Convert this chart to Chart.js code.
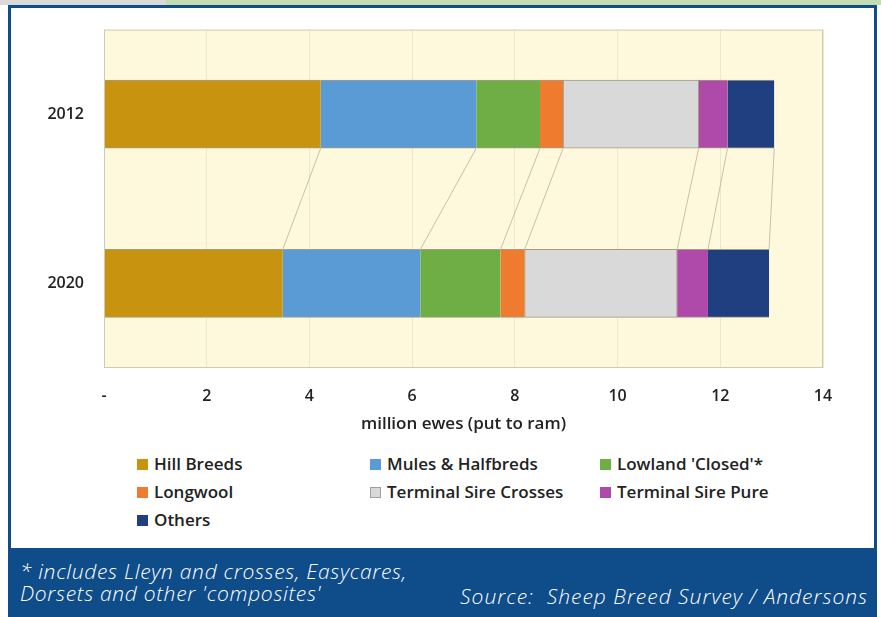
<!DOCTYPE html>
<html>
<head>
<meta charset="utf-8">
<script src="https://cdn.jsdelivr.net/npm/chart.js@4.4.1/dist/chart.umd.min.js"></script>
<style>
  html, body { margin: 0; padding: 0; background: #ffffff; }
  body { width: 881px; height: 617px; position: relative; overflow: hidden; font-family: "Open Sans", "Noto Sans", sans-serif; }
  #stripGrey { position: absolute; left: 0; top: 0; width: 166px; height: 5px; background: #d9d9d9; }
  #stripGreen { position: absolute; left: 166px; top: 0; width: 715px; height: 5px; background: #c3dcb0; }
  #frame { position: absolute; left: 8px; top: 5px; width: 863px; height: 545px; border: 3px solid #0e4c8a; border-bottom: none; background: #ffffff; }
  #footer { position: absolute; left: 8px; top: 548px; width: 869px; height: 69px; background: #0e4c8a; color: #ffffff; font-style: italic; font-weight: 300; font-size: 21px; letter-spacing: 0.7px; }
  #note { position: absolute; left: 12px; top: 12px; line-height: 22px; }
  #source { position: absolute; right: 9px; top: 37px; line-height: 22px; letter-spacing: 1px; }
  #chartBox { position: absolute; left: 0; top: 0; width: 881px; height: 440px; }
  #legend { position: absolute; left: 0; top: 0; width: 881px; }
  .item { position: absolute; font-size: 17px; font-weight: 600; color: #222222; white-space: nowrap; line-height: 20px; }
  .swatch { display: inline-block; width: 11px; height: 11px; margin-right: 6px; vertical-align: 0px; box-sizing: border-box; }
</style>
</head>
<body>
<div id="stripGrey"></div>
<div id="stripGreen"></div>
<div id="frame"></div>
<div id="chartBox"><canvas id="chart" width="881" height="440"></canvas></div>
<div id="legend"></div>
<div id="footer">
  <div id="note">* includes Lleyn and crosses, Easycares,<br>Dorsets and other 'composites'</div>
  <div id="source">Source:&nbsp; Sheep Breed Survey / Andersons</div>
</div>
<script>
// Breeding ewe flock by breed group, million ewes put to ram
const years = ['2012', '2020'];
const breeds = ['Hill Breeds', 'Mules & Halfbreds', "Lowland 'Closed'*", 'Longwool',
                'Terminal Sire Crosses', 'Terminal Sire Pure', 'Others'];
const hillBreeds = [4.22, 3.48];
const mulesHalfbreds = [3.03, 2.68];
const lowlandClosed = [1.24, 1.56];
const longwool = [0.45, 0.47];
const terminalSireCrosses = [2.64, 2.97];
const terminalSirePure = [0.56, 0.60];
const others = [0.91, 1.19];
const xTicks = [0, 2, 4, 6, 8, 10, 12, 14];

const seriesValues = [hillBreeds, mulesHalfbreds, lowlandClosed, longwool,
                      terminalSireCrosses, terminalSirePure, others];
const seriesColours = ['#c8930e', '#5b9bd5', '#6fad45', '#ee7b2e', '#d9d9d9', '#b04aaa', '#203f80'];

// legend placement: three columns, filled row by row
const legendCols = [137, 370, 600];
const legendRows = [464, 492, 520];
const legend = document.getElementById('legend');
breeds.forEach((name, i) => {
  const d = document.createElement('div');
  d.className = 'item';
  d.style.left = legendCols[i % 3] + 'px';
  d.style.top = (legendRows[Math.floor(i / 3)] - 10) + 'px';
  const sw = document.createElement('span');
  sw.className = 'swatch';
  sw.style.background = seriesColours[i];
  if (i === 4) sw.style.border = '1px solid #a0a0a0';
  d.appendChild(sw);
  d.appendChild(document.createTextNode(name));
  legend.appendChild(d);
});

// cream plot background with a thin frame
const plotBackground = {
  id: 'plotBackground',
  beforeDraw(chart) {
    const { ctx, chartArea: a } = chart;
    ctx.save();
    ctx.fillStyle = '#fef9dc';
    ctx.fillRect(a.left, a.top, a.right - a.left, a.bottom - a.top);
    ctx.restore();
  },
  afterDraw(chart) {
    const { ctx, chartArea: a } = chart;
    ctx.save();
    ctx.strokeStyle = '#cfcab6';
    ctx.lineWidth = 1;
    ctx.strokeRect(a.left + 0.5, a.top + 0.5, a.right - a.left - 1, a.bottom - a.top - 1);
    ctx.restore();
  }
};

// series lines joining each segment end of the 2012 bar to the 2020 bar
const seriesLines = {
  id: 'seriesLines',
  afterDatasetsDraw(chart) {
    const { ctx } = chart;
    ctx.save();
    ctx.strokeStyle = '#b8b29c';
    ctx.lineWidth = 0.8;
    chart.data.datasets.forEach((ds, i) => {
      const meta = chart.getDatasetMeta(i);
      const a = meta.data[0], b = meta.data[1];
      if (!a || !b) return;
      ctx.beginPath();
      ctx.moveTo(a.x, a.y + a.height / 2);
      ctx.lineTo(b.x, b.y - b.height / 2);
      ctx.stroke();
    });
    ctx.restore();
  }
};

const tickFont = { family: '"Open Sans", "Noto Sans", sans-serif', size: 16, weight: '600' };
const titleFont = { family: '"Open Sans", "Noto Sans", sans-serif', size: 17, weight: '600' };

new Chart(document.getElementById('chart'), {
  type: 'bar',
  data: {
    labels: years,
    datasets: breeds.map((name, i) => ({
      label: name,
      data: seriesValues[i],
      backgroundColor: seriesColours[i],
      borderColor: '#a29b86',
      borderWidth: i === 4 ? 1 : { top: 1, bottom: 1, left: 0, right: 0 },
      borderSkipped: false,
      barThickness: 68
    }))
  },
  options: {
    indexAxis: 'y',
    responsive: false,
    devicePixelRatio: 1,
    animation: false,
    layout: { padding: { left: 0, right: 58, top: 27, bottom: 0 } },
    plugins: {
      legend: { display: false },
      tooltip: { enabled: false }
    },
    scales: {
      x: {
        stacked: true,
        min: 0,
        max: 14,
        afterBuildTicks(scale) { scale.ticks = xTicks.map(v => ({ value: v })); },
        afterFit(scale) { scale.height = 72; },
        grid: { color: '#efe8c8', drawTicks: false },
        border: { display: false },
        ticks: {
          padding: 19,
          color: '#222222',
          font: tickFont,
          callback: v => (v === 0 ? '-' : String(v))
        },
        title: {
          display: true,
          text: 'million ewes (put to ram)',
          color: '#222222',
          font: titleFont,
          padding: { top: 0, bottom: 6 }
        }
      },
      y: {
        stacked: true,
        afterFit(scale) { scale.width = 104; },
        grid: { display: false, drawTicks: false },
        border: { display: false },
        ticks: { padding: 20, color: '#222222', font: tickFont }
      }
    }
  },
  plugins: [plotBackground, seriesLines]
});
</script>
</body>
</html>
